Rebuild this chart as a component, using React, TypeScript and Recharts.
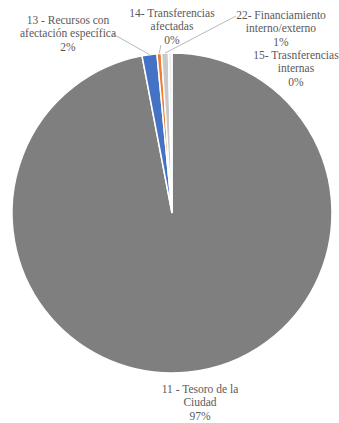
import React from 'react';
import { PieChart, Pie, Cell } from 'recharts';

// Fuentes de financiamiento (% del total)
const SOURCE_NAMES = [
  '11 - Tesoro de la Ciudad',
  '13 - Recursos con afectación específica',
  '14- Transferencias afectadas',
  '22- Financiamiento interno/externo',
  '15- Trasnferencias internas',
];
const SOURCE_VALUES = [97.0, 1.5, 0.45, 0.7, 0.35];
const PCT_LABELS = ['97%', '2%', '0%', '1%', '0%'];
const LABEL_LINES = [
  ['11 - Tesoro de la', 'Ciudad'],
  ['13 - Recursos con', 'afectación específica'],
  ['14- Transferencias', 'afectadas'],
  ['22- Financiamiento', 'interno/externo'],
  ['15- Trasnferencias', 'internas'],
];

const COLORS = ['#7f7f7f', '#4472c4', '#ed7d31', '#c9c9c9', '#ededed'];

const FONT = "'Liberation Serif', 'Times New Roman', serif";

// posición del texto (centro x, primera línea base y) y del extremo de la guía
const LABEL_LAYOUT = [
  { x: 200, y: 393, line: null },
  { x: 68, y: 24, line: { x: 113, y: 34 } },
  { x: 172, y: 17, line: { x: 161, y: 45 } },
  { x: 281, y: 19, line: { x: 236, y: 16 } },
  { x: 296, y: 59, line: null },
];

const RADIAN = Math.PI / 180;

const data = SOURCE_NAMES.map((name, i) => ({ name, value: SOURCE_VALUES[i] }));

const renderLabel = (props: any) => {
  const { cx, cy, midAngle, outerRadius, index } = props;
  const pos = LABEL_LAYOUT[index];
  const lines = [...LABEL_LINES[index], PCT_LABELS[index]];
  const ex = cx + outerRadius * Math.cos(-midAngle * RADIAN);
  const ey = cy + outerRadius * Math.sin(-midAngle * RADIAN);
  return (
    <g key={`lbl-${index}`}>
      {pos.line && (
        <line x1={ex} y1={ey} x2={pos.line.x} y2={pos.line.y} stroke="#a6a6a6" strokeWidth={0.8} />
      )}
      <text
        x={pos.x}
        y={pos.y}
        textAnchor="middle"
        fill="#595959"
        fontSize={11.5}
        fontFamily={FONT}
        style={{ fontFamily: FONT }}
      >
        {lines.map((t, k) => (
          <tspan key={k} x={pos.x} dy={k === 0 ? 0 : 13.4}>
            {t}
          </tspan>
        ))}
      </text>
    </g>
  );
};

export default function App() {
  return (
    <div style={{ position: 'absolute', left: 0, top: 0, width: 339, height: 423, background: '#fff' }}>
      <PieChart width={339} height={423} margin={{ top: 0, right: 0, bottom: 0, left: 0 }}>
        <Pie
          data={data}
          dataKey="value"
          nameKey="name"
          cx={172}
          cy={213}
          outerRadius={160}
          startAngle={90}
          endAngle={-270}
          stroke="#ffffff"
          strokeWidth={1.5}
          label={renderLabel}
          labelLine={false}
          isAnimationActive={false}
        >
          {data.map((d, i) => (
            <Cell key={d.name} fill={COLORS[i]} />
          ))}
        </Pie>
      </PieChart>
    </div>
  );
}
